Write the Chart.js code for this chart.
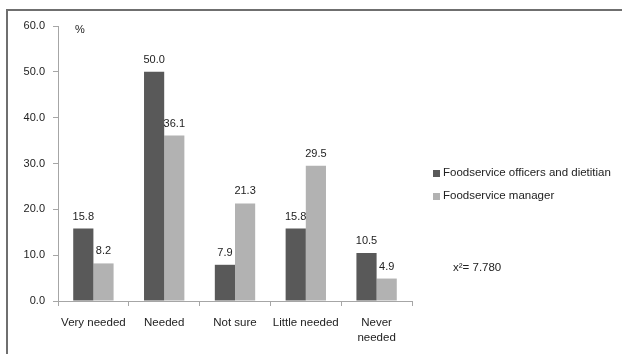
<!DOCTYPE html>
<html>
<head>
<meta charset="utf-8">
<script src="https://cdn.jsdelivr.net/npm/chart.js@4"></script>
<style>
  html, body { margin: 0; padding: 0; background: #fff; overflow: hidden; }
  #frame { position: absolute; left: 6px; top: 9px; width: 700px; height: 400px;
           border-top: 2px solid #6f6f6f; border-left: 2px solid #6f6f6f; }
  #wrap { position: absolute; left: 0; top: 0; width: 622px; height: 354px; }
</style>
</head>
<body>
<div id="frame"></div>
<div id="wrap"><canvas id="chart" width="622" height="354"></canvas></div>
<script>
const categories = ['Very needed', 'Needed', 'Not sure', 'Little needed', ['Never', 'needed']];
const officersValues = [15.8, 50.0, 7.9, 15.8, 10.5];
const managerValues = [8.2, 36.1, 21.3, 29.5, 4.9];
const seriesNames = ['Foodservice officers and dietitian', 'Foodservice manager'];
const yTicks = [0, 10, 20, 30, 40, 50, 60];
const unitLabel = '%';
const chiLabel = 'x\u00B2= 7.780';

const FONT = '"Liberation Sans", Arial, sans-serif';

// etiquetas de valor encima de cada barra
const valueLabels = {
    id: 'valueLabels',
    afterDatasetsDraw(chart) {
        const ctx = chart.ctx;
        ctx.save();
        ctx.font = '11px ' + FONT;
        ctx.fillStyle = '#222';
        ctx.textAlign = 'center';
        ctx.textBaseline = 'middle';
        chart.data.datasets.forEach((ds, i) => {
            chart.getDatasetMeta(i).data.forEach((bar, j) => {
                ctx.fillText(ds.data[j].toFixed(1), bar.x, bar.y - 12);
            });
        });
        ctx.restore();
    }
};

// leyenda, "%" y el chi cuadrado
const extras = {
    id: 'extras',
    afterDraw(chart) {
        const ctx = chart.ctx;
        const area = chart.chartArea;
        ctx.save();
        ctx.font = '11px ' + FONT;
        ctx.textBaseline = 'middle';
        ctx.textAlign = 'left';
        ctx.fillStyle = '#222';
        ctx.fillText(unitLabel, area.left + 17, area.top + 4);

        ctx.font = '11.5px ' + FONT;
        chart.data.datasets.forEach((ds, i) => {
            const y = 173 + i * 23;
            ctx.fillStyle = ds.backgroundColor;
            ctx.fillRect(433, y - 3, 7, 7);
            ctx.fillStyle = '#222';
            ctx.fillText(ds.label, 443, y);
        });

        ctx.fillText(chiLabel, 453, 268);
        ctx.restore();
    }
};

new Chart(document.getElementById('chart'), {
    type: 'bar',
    data: {
        labels: categories,
        datasets: [
            {
                label: seriesNames[0],
                data: officersValues,
                backgroundColor: '#595959',
                borderWidth: 0,
                categoryPercentage: 0.57,
                barPercentage: 1.0
            },
            {
                label: seriesNames[1],
                data: managerValues,
                backgroundColor: '#b2b2b2',
                borderWidth: 0,
                categoryPercentage: 0.57,
                barPercentage: 1.0
            }
        ]
    },
    options: {
        responsive: false,
        animation: false,
        layout: { padding: { left: 0, top: 26, right: 210, bottom: 0 } },
        plugins: {
            legend: { display: false },
            tooltip: { enabled: false }
        },
        scales: {
            x: {
                grid: {
                    offset: true,
                    drawOnChartArea: false,
                    drawTicks: true,
                    tickLength: 5,
                    color: '#a6a6a6'
                },
                border: { color: '#a6a6a6', width: 1 },
                ticks: {
                    font: { family: FONT, size: 11.5, lineHeight: 1.3 },
                    color: '#222',
                    padding: 9,
                    maxRotation: 0,
                    autoSkip: false
                },
                afterFit(scale) { scale.height = 53; }
            },
            y: {
                min: 0,
                max: 60,
                grid: {
                    drawOnChartArea: false,
                    drawTicks: true,
                    tickLength: 5,
                    color: '#a6a6a6'
                },
                border: { color: '#a6a6a6', width: 1 },
                afterBuildTicks(scale) {
                    scale.ticks = yTicks.map(v => ({ value: v }));
                },
                ticks: {
                    font: { family: FONT, size: 11 },
                    color: '#222',
                    padding: 8,
                    callback: v => Number(v).toFixed(1)
                },
                afterFit(scale) { scale.width = 58; }
            }
        }
    },
    plugins: [valueLabels, extras]
});
</script>
</body>
</html>
